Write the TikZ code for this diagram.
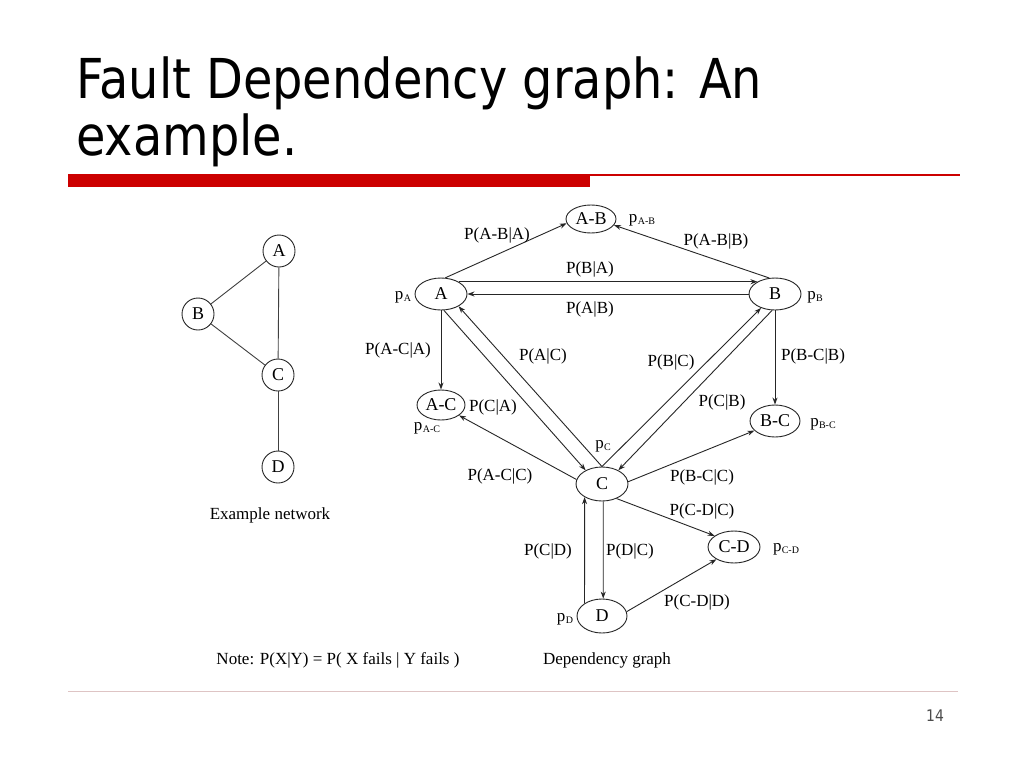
\documentclass[tikz,border=0pt]{standalone}
\usepackage{fontspec}
\setmainfont{Liberation Serif}
\newfontfamily\titlefont[FakeStretch=0.87]{DejaVu Sans}
\newfontfamily\numfont[FakeStretch=0.87]{DejaVu Sans}
\usetikzlibrary{shapes.geometric,arrows.meta}
\newcommand{\psub}[1]{p\kern0.3pt\raisebox{-0.35ex}{\fontsize{10}{10}\selectfont #1}}
\definecolor{barred}{RGB}{204,0,0}
\definecolor{footline}{RGB}{222,196,196}
\begin{document}
\begin{tikzpicture}[x=1pt,y=-1pt,
  ell/.style={ellipse,draw=black!85,line width=0.9pt,inner sep=0pt,minimum width=50pt,minimum height=32pt,font=\fontsize{18}{18}\selectfont},
  circ/.style={circle,draw=black!85,line width=0.9pt,inner sep=0pt,minimum size=32pt,font=\fontsize{18}{18}\selectfont},
  arr/.style={draw=black!85,line width=0.9pt,-{Stealth[length=7pt,width=5pt]}},
  link/.style={draw=black!75,line width=0.9pt},
  lbl/.style={inner sep=0pt,font=\fontsize{17}{17}\selectfont},
  ttl/.style={inner sep=0pt,anchor=base west,font=\titlefont\fontsize{55}{57}\selectfont},
]
\useasboundingbox[fill=white] (0,0) rectangle (1024,768);

% title and bars
\node[ttl] (t1) at (76,98) {Fault Dependency graph: An};
\node[ttl] (t2) at (76,155) {example.};
\fill[barred] (68,174) rectangle (590,187);
\draw[barred,line width=1.2pt] (68,175) -- (960,175);
\draw[footline,line width=1pt] (68,691) -- (958,691);
\node[inner sep=0pt,font=\numfont\fontsize{16}{16}\selectfont,text=black!70] (pg) at (935,716) {14};

% example network
\node[circ] (nA) at (279,251) {A};
\node[circ] (nB) at (198,314) {B};
\node[circ] (nC) at (278,375) {C};
\node[circ] (nD) at (278,467) {D};
\draw[link] (nA) -- (nB);
\draw[link] (nB) -- (nC);
\draw[link] (nA) -- (nC);
\draw[link] (nC) -- (nD);
\node[lbl] (exnet) at (270,515) {Example network};

% dependency graph nodes
\node[ell,minimum height=28pt] (AB) at (591,219) {A-B};
\node[ell,minimum width=52pt] (A) at (441,294) {A};
\node[ell,minimum width=52pt] (B) at (775,294) {B};
\node[ell,minimum width=48pt,minimum height=30pt] (AC) at (441,405) {A-C};
\node[ell] (BC) at (775,421) {B-C};
\node[ell,minimum width=52pt,minimum height=34pt] (C) at (602,484) {C};
\node[ell,minimum width=52pt] (CD) at (734,547) {C-D};
\node[ell,minimum height=34pt] (D) at (602,616) {D};

% probabilities of nodes
\node[lbl] (pA) at (403,297) {\psub{A}};
\node[lbl] (pB) at (815,297) {\psub{B}};
\node[lbl] (pAB) at (642,220) {\psub{A-B}};
\node[lbl] (pAC) at (427,428) {\psub{A-C}};
\node[lbl] (pC) at (603,446) {\psub{C}};
\node[lbl] (pBC) at (823,424) {\psub{B-C}};
\node[lbl] (pCD) at (786,549) {\psub{C-D}};
\node[lbl] (pD) at (565,619) {\psub{D}};

% edges
\draw[arr] (A.75) -- (AB.190);
\draw[arr] (B.110) -- (AB.-15);
\draw[arr] (A.35) -- (B.145);
\draw[arr] (B.west) -- (A.east);
\draw[arr] (A.south) -- (AC.north);
\draw[arr] (A.-80) -- (C.140);
\draw[arr] (C.north) -- (A.-35);
\draw[arr] (C.170) -- (AC.-30);
\draw[arr] (B.-100) -- (C.40);
\draw[arr] (C.north) -- (B.-135);
\draw[arr] (B.south) -- (BC.north);
\draw[arr] (C.5) -- (BC.-155);
\draw[arr] (C.-45) -- (CD.150);
\draw[arr] (C.-86) -- (D.86);
\draw[arr] (D.144) -- (C.-143);
\draw[arr] (D.10) -- (CD.-145);

% edge labels
\node[lbl] (l1) at (497,235) {P(A-B|A)};
\node[lbl] (l2) at (716,241) {P(A-B|B)};
\node[lbl] (l3) at (590,269) {P(B|A)};
\node[lbl] (l4) at (590,309) {P(A|B)};
\node[lbl] (l5) at (398,350) {P(A-C|A)};
\node[lbl] (l6) at (543,356) {P(A|C)};
\node[lbl] (l7) at (671,362) {P(B|C)};
\node[lbl] (l8) at (813,356) {P(B-C|B)};
\node[lbl] (l9) at (493,407) {P(C|A)};
\node[lbl] (l10) at (722,402) {P(C|B)};
\node[lbl] (l11) at (500,476) {P(A-C|C)};
\node[lbl] (l12) at (702,477) {P(B-C|C)};
\node[lbl] (l13) at (702,511) {P(C-D|C)};
\node[lbl] (l14) at (548,551) {P(C|D)};
\node[lbl] (l15) at (630,551) {P(D|C)};
\node[lbl] (l16) at (697,602) {P(C-D|D)};

% captions
\node[lbl] (note) at (338,660) {Note: P(X|Y) = P( X fails | Y fails )};
\node[lbl] (dep) at (607,660) {Dependency graph};
\end{tikzpicture}
\end{document}
